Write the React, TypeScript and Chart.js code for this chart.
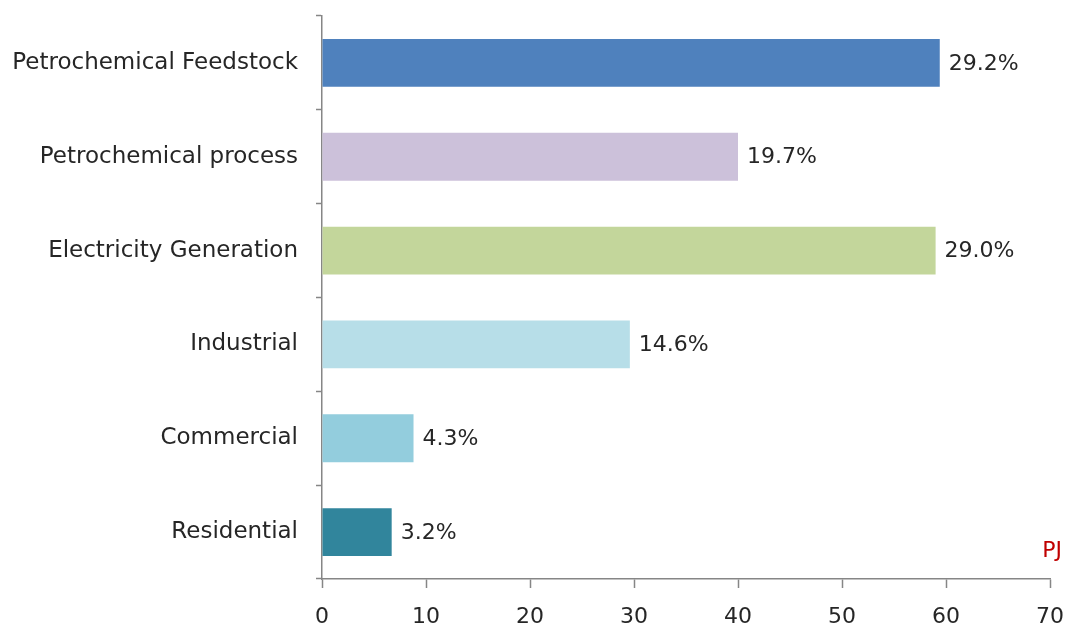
import React, { useEffect, useRef } from "react";
import { Chart, registerables } from "chart.js";

Chart.register(...registerables);

const categories = [
  "Petrochemical Feedstock",
  "Petrochemical process",
  "Electricity Generation",
  "Industrial",
  "Commercial",
  "Residential",
];
const values = [59.4, 40.0, 59.0, 29.6, 8.8, 6.7];
const shareLabels = ["29.2%", "19.7%", "29.0%", "14.6%", "4.3%", "3.2%"];
const barColors = ["#4F81BD", "#CCC1DA", "#C3D69B", "#B7DEE8", "#93CDDD", "#31859C"];
const unitLabel = "PJ";

const FONT = "'DejaVu Sans', Verdana, sans-serif";
const TEXT = "#262626";
const AXIS = "#868686";

const labelPlugin = {
  id: "barLabels",
  afterDatasetsDraw(chart: any) {
    const ctx = chart.ctx;
    const meta = chart.getDatasetMeta(0);
    ctx.save();
    ctx.font = `22px ${FONT}`;
    ctx.fillStyle = TEXT;
    ctx.textAlign = "left";
    ctx.textBaseline = "middle";
    meta.data.forEach((bar: any, i: number) => {
      ctx.fillText(shareLabels[i], bar.x + 9, bar.y + 1);
    });
    const area = chart.chartArea;
    ctx.fillStyle = "#C00000";
    ctx.textAlign = "right";
    ctx.fillText(unitLabel, area.right + 12, area.bottom - 28);
    ctx.restore();
  },
};

export default function App() {
  const ref = useRef<HTMLCanvasElement | null>(null);
  useEffect(() => {
    document.body.style.margin = "0";
    const chart = new Chart(ref.current as HTMLCanvasElement, {
      type: "bar",
      data: {
        labels: categories,
        datasets: [
          {
            data: values,
            backgroundColor: barColors,
            borderWidth: 0,
            categoryPercentage: 1,
            barPercentage: 0.51,
          },
        ],
      },
      options: {
        indexAxis: "y",
        animation: false,
        responsive: false,
        maintainAspectRatio: false,
        layout: { padding: { top: 16, right: 17, left: 0, bottom: 0 } },
        plugins: { legend: { display: false }, tooltip: { enabled: false } },
        scales: {
          x: {
            min: 0,
            max: 70,
            ticks: {
              stepSize: 10,
              color: TEXT,
              font: { family: FONT, size: 22 },
              padding: 16,
            },
            grid: {
              drawOnChartArea: false,
              color: AXIS,
              tickLength: 9,
              tickWidth: 1.5,
            },
            border: { color: AXIS, width: 1.5 },
            afterFit(scale: any) {
              scale.height = 47;
              scale.paddingLeft = 0;
              scale.paddingRight = 0;
            },
          },
          y: {
            ticks: {
              color: TEXT,
              font: { family: FONT, size: 23 },
              padding: 18,
            },
            grid: {
              drawOnChartArea: false,
              color: AXIS,
              tickLength: 6,
              tickWidth: 1.5,
              offset: true,
            },
            border: { color: AXIS, width: 1.5 },
            afterFit(scale: any) {
              scale.width = 322;
              scale.paddingTop = 0;
              scale.paddingBottom = 0;
            },
          },
        },
      },
      plugins: [labelPlugin],
    } as any);
    return () => chart.destroy();
  }, []);
  return (
    <div style={{ position: "absolute", left: 0, top: 0, width: 1067, height: 626 }}>
      <canvas ref={ref} width={1067} height={626} style={{ width: 1067, height: 626 }} />
    </div>
  );
}
